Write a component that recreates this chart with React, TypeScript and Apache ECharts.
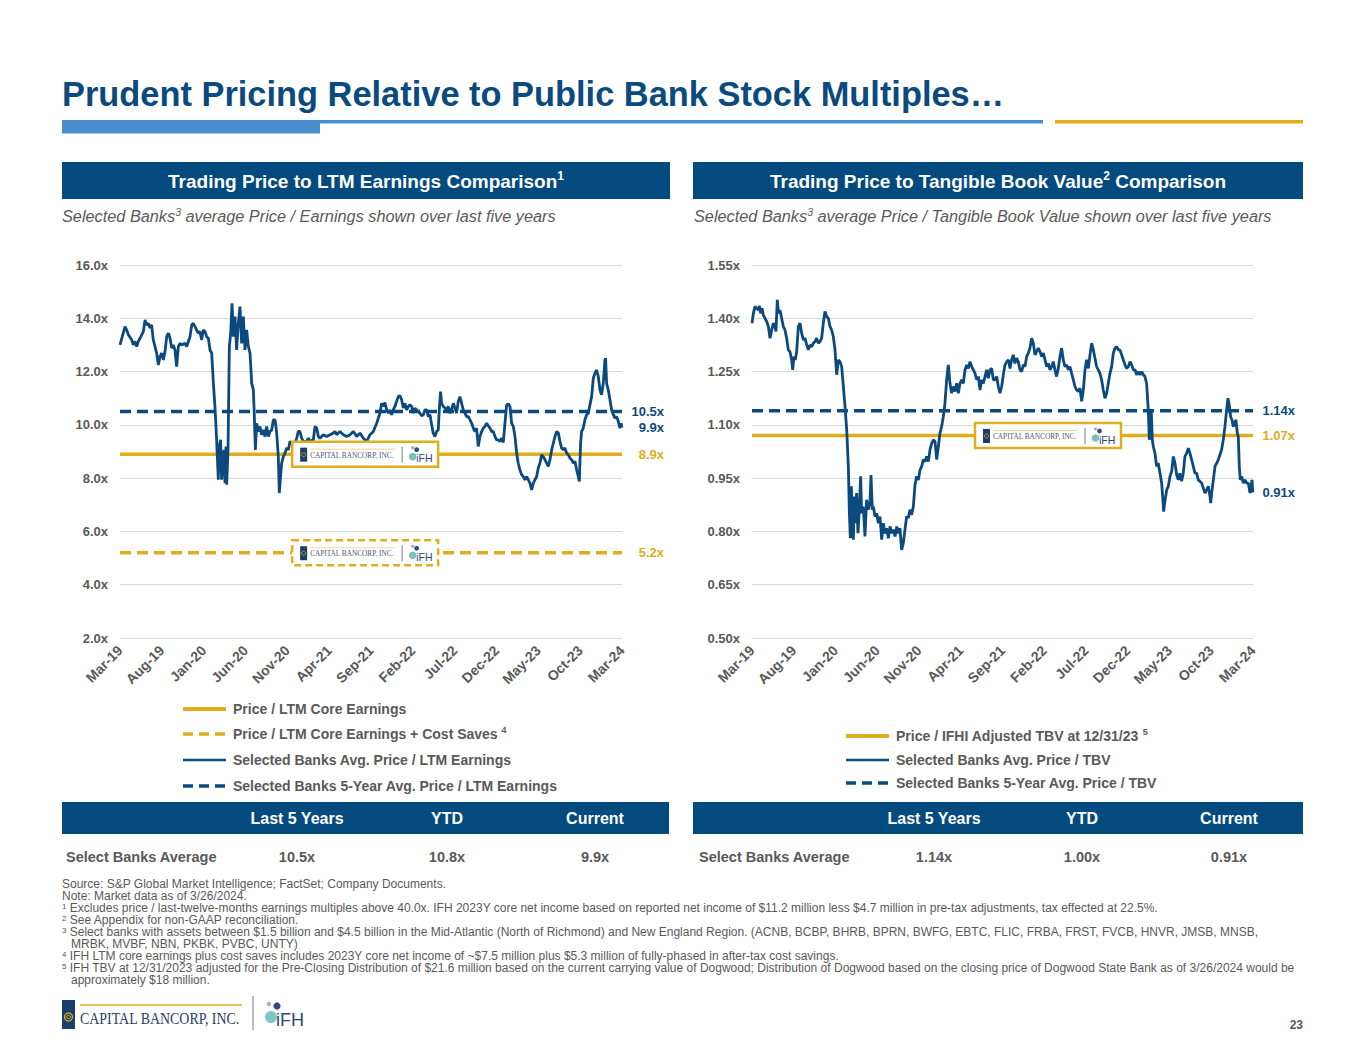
import React, { useEffect, useRef } from 'react';
import * as echarts from 'echarts';

// ---------- DATA ----------
const xTickLabels = ['Mar-19', 'Aug-19', 'Jan-20', 'Jun-20', 'Nov-20', 'Apr-21', 'Sep-21', 'Feb-22', 'Jul-22', 'Dec-22', 'May-23', 'Oct-23', 'Mar-24'];

// months since Mar-19, Selected Banks Avg. Price / LTM Earnings
const peSeries: [number, number][] = [
  [0, 13.0], [0.6, 13.69], [0.8, 13.56], [1.0, 13.38], [1.39, 13.19], [1.59, 13.0], [1.79, 13.13], [1.99, 12.94], [2.19, 13.13], [2.39, 13.25],
  [2.59, 13.38], [2.79, 13.5], [2.99, 13.94], [3.19, 13.75], [3.39, 13.81], [3.59, 13.63], [3.78, 13.75], [3.98, 13.19], [4.18, 12.94], [4.38, 12.69],
  [4.58, 12.25], [4.78, 12.56], [4.98, 12.69], [5.18, 12.44], [5.38, 12.75], [5.58, 13.31], [5.78, 13.44], [5.98, 13.25], [6.18, 12.88], [6.37, 13.0],
  [6.57, 12.81], [6.77, 12.19], [6.97, 12.94], [7.17, 13.06], [7.37, 13.0], [7.77, 13.06], [7.97, 12.94], [8.17, 13.13], [8.37, 13.31], [8.57, 13.75],
  [8.76, 13.81], [8.96, 13.69], [9.16, 13.56], [9.36, 13.44], [9.56, 13.5], [9.76, 13.19], [9.96, 13.56], [10.16, 13.5], [10.36, 13.31], [10.56, 13.25],
  [10.76, 12.81], [10.96, 12.69], [11.16, 11.56], [11.35, 10.69], [11.55, 9.44], [11.63, 8.81], [11.75, 7.94], [11.87, 9.19], [12.03, 9.44], [12.15, 7.94],
  [12.27, 8.56], [12.43, 9.06], [12.55, 7.81], [12.67, 9.19], [12.75, 7.75], [12.91, 9.06], [13.07, 12.94], [13.23, 13.44], [13.39, 14.56], [13.55, 13.31],
  [13.75, 14.06], [13.94, 12.81], [14.14, 13.81], [14.34, 14.44], [14.54, 13.06], [14.74, 14.06], [14.94, 12.81], [15.14, 13.56], [15.34, 12.94], [15.54, 12.69],
  [15.74, 11.56], [15.94, 11.31], [16.06, 10.31], [16.18, 9.06], [16.33, 10.06], [16.53, 9.75], [16.73, 9.94], [16.93, 9.63], [17.13, 9.81], [17.33, 9.56],
  [17.53, 9.94], [17.73, 9.56], [17.93, 9.75], [18.13, 9.81], [18.33, 10.19], [18.53, 10.19], [18.73, 9.69], [18.92, 8.81], [19.04, 7.44], [19.16, 7.94],
  [19.32, 8.56], [19.52, 8.81], [19.72, 8.94], [19.92, 9.13], [20.12, 9.06], [20.32, 9.38], [20.52, 9.31], [20.72, 9.19], [20.92, 9.31], [21.12, 9.5],
  [21.31, 9.75], [21.51, 9.75], [21.71, 9.5], [21.91, 9.38], [22.31, 9.38], [22.51, 9.5], [22.71, 9.38], [23.11, 9.44], [23.31, 9.94], [23.51, 9.88],
  [23.71, 9.56], [23.9, 9.5], [24.3, 9.63], [24.7, 9.56], [25.1, 9.63], [25.5, 9.69], [25.7, 9.75], [25.9, 9.63], [26.29, 9.75], [26.69, 9.63],
  [27.09, 9.56], [27.49, 9.63], [27.89, 9.75], [28.29, 9.56], [28.69, 9.69], [29.08, 9.5], [29.48, 9.38], [29.88, 9.63], [30.28, 9.75], [30.68, 10.06],
  [31.07, 10.44], [31.27, 10.81], [31.47, 10.69], [31.67, 10.84], [31.87, 10.56], [32.07, 10.44], [32.27, 10.56], [32.46, 10.38], [32.66, 10.56], [32.86, 10.69],
  [33.06, 10.88], [33.26, 11.06], [33.46, 11.09], [33.66, 10.94], [33.86, 10.63], [34.06, 10.81], [34.26, 10.56], [34.46, 10.69], [34.66, 10.75], [34.86, 10.69],
  [35.05, 10.44], [35.25, 10.63], [35.45, 10.56], [35.65, 10.5], [35.85, 10.44], [36.05, 10.34], [36.25, 10.38], [36.45, 10.56], [36.65, 10.56], [36.85, 10.31],
  [37.05, 10.38], [37.25, 10.0], [37.44, 9.69], [37.64, 9.56], [37.84, 9.75], [38.04, 9.81], [38.16, 10.56], [38.32, 11.25], [38.44, 10.81], [38.64, 10.69],
  [38.84, 10.63], [39.04, 10.56], [39.24, 10.69], [39.44, 10.44], [39.64, 10.59], [39.84, 10.81], [40.03, 10.63], [40.23, 10.44], [40.43, 10.88], [40.63, 11.06],
  [40.83, 10.81], [41.03, 10.56], [41.23, 10.44], [41.43, 10.31], [41.63, 10.31], [41.83, 10.19], [42.03, 10.06], [42.23, 9.88], [42.43, 9.75], [42.62, 9.88],
  [42.82, 9.19], [43.02, 9.56], [43.22, 9.75], [43.42, 9.88], [43.62, 9.94], [43.82, 10.06], [44.02, 9.96], [44.22, 9.88], [44.42, 9.75], [44.62, 9.75],
  [44.82, 9.56], [45.01, 9.44], [45.21, 9.44], [45.41, 9.38], [45.61, 9.5], [45.81, 9.34], [46.01, 10.06], [46.21, 10.75], [46.41, 10.79], [46.61, 10.69],
  [46.81, 10.06], [47.01, 9.94], [47.21, 9.56], [47.41, 8.94], [47.6, 8.56], [47.8, 8.31], [48.0, 8.13], [48.2, 8.06], [48.4, 7.94], [48.6, 8.06],
  [48.8, 7.94], [49.0, 7.81], [49.2, 7.56], [49.4, 7.81], [49.6, 7.94], [49.8, 8.06], [49.99, 8.38], [50.19, 8.56], [50.39, 8.88], [50.59, 8.81],
  [50.79, 8.69], [50.99, 8.56], [51.19, 8.44], [51.39, 8.69], [51.59, 9.06], [51.79, 9.31], [51.99, 9.56], [52.19, 9.75], [52.39, 9.69], [52.58, 9.38],
  [52.78, 9.13], [52.98, 9.06], [53.18, 9.13], [53.38, 8.94], [53.58, 8.88], [53.78, 8.75], [53.98, 8.69], [54.18, 8.56], [54.38, 8.63], [54.58, 8.31],
  [54.78, 8.06], [54.9, 7.88], [55.05, 9.31], [55.17, 9.75], [55.37, 9.88], [55.57, 10.19], [55.77, 10.38], [55.97, 10.44], [56.17, 10.75], [56.37, 11.06],
  [56.57, 11.75], [56.77, 11.94], [56.97, 12.06], [57.17, 11.81], [57.37, 11.31], [57.56, 11.13], [57.76, 11.56], [57.96, 12.44], [58.04, 12.5], [58.16, 11.56],
  [58.36, 11.31], [58.56, 10.94], [58.76, 10.56], [58.96, 10.38], [59.16, 10.25], [59.36, 10.31], [59.56, 10.13], [59.76, 9.88], [59.9, 10.06], [60, 9.9],
];

// months since Mar-19, Selected Banks Avg. Price / TBV
const tbvSeries: [number, number][] = [
  [0, 1.386], [0.16, 1.414], [0.36, 1.433], [0.56, 1.428], [0.76, 1.423], [0.88, 1.435], [1.04, 1.414], [1.2, 1.428], [1.36, 1.409], [1.56, 1.4],
  [1.76, 1.391], [1.96, 1.377], [2.16, 1.344], [2.36, 1.367], [2.55, 1.386], [2.75, 1.377], [2.87, 1.363], [3.03, 1.452], [3.19, 1.414], [3.35, 1.423],
  [3.55, 1.4], [3.75, 1.377], [3.95, 1.367], [4.15, 1.344], [4.35, 1.311], [4.55, 1.306], [4.75, 1.283], [4.87, 1.255], [5.03, 1.292], [5.19, 1.283],
  [5.35, 1.306], [5.55, 1.377], [5.75, 1.386], [5.95, 1.358], [6.15, 1.339], [6.35, 1.344], [6.55, 1.325], [6.75, 1.311], [6.95, 1.325], [7.15, 1.32],
  [7.35, 1.33], [7.54, 1.334], [7.74, 1.344], [7.94, 1.33], [8.14, 1.334], [8.34, 1.344], [8.54, 1.386], [8.74, 1.419], [8.94, 1.405], [9.14, 1.4],
  [9.34, 1.377], [9.54, 1.367], [9.74, 1.348], [9.94, 1.311], [10.14, 1.241], [10.34, 1.283], [10.54, 1.278], [10.74, 1.264], [10.94, 1.208], [11.14, 1.152],
  [11.34, 1.086], [11.54, 0.983], [11.66, 0.851], [11.78, 0.781], [11.9, 0.927], [12.02, 0.814], [12.14, 0.777], [12.26, 0.898], [12.38, 0.823], [12.53, 0.908],
  [12.69, 0.795], [12.85, 0.861], [13.01, 0.955], [13.13, 0.851], [13.33, 0.87], [13.53, 0.786], [13.73, 0.889], [13.93, 0.861], [14.13, 0.88], [14.25, 0.959],
  [14.41, 0.861], [14.53, 0.87], [14.73, 0.842], [14.93, 0.851], [15.13, 0.823], [15.33, 0.842], [15.53, 0.777], [15.73, 0.823], [15.93, 0.795], [16.13, 0.809],
  [16.33, 0.781], [16.53, 0.814], [16.73, 0.795], [16.93, 0.805], [17.13, 0.786], [17.33, 0.814], [17.52, 0.795], [17.72, 0.809], [17.92, 0.748], [18.12, 0.767],
  [18.32, 0.805], [18.52, 0.842], [18.72, 0.838], [18.92, 0.861], [19.12, 0.847], [19.32, 0.87], [19.52, 0.931], [19.72, 0.955], [19.92, 0.945], [20.12, 0.973],
  [20.32, 0.983], [20.52, 1.002], [20.72, 0.997], [20.92, 1.011], [21.12, 0.997], [21.32, 1.03], [21.52, 1.048], [21.72, 1.058], [21.92, 1.053], [22.12, 1.002],
  [22.32, 1.039], [22.51, 1.077], [22.71, 1.095], [22.91, 1.123], [23.11, 1.161], [23.31, 1.227], [23.51, 1.269], [23.71, 1.217], [23.91, 1.189], [24.11, 1.208],
  [24.31, 1.194], [24.51, 1.217], [24.71, 1.189], [24.91, 1.217], [25.11, 1.227], [25.31, 1.217], [25.51, 1.255], [25.71, 1.269], [25.91, 1.259], [26.11, 1.278],
  [26.31, 1.264], [26.51, 1.255], [26.71, 1.245], [26.91, 1.227], [27.11, 1.236], [27.31, 1.198], [27.5, 1.227], [27.7, 1.217], [27.9, 1.236], [28.1, 1.255],
  [28.3, 1.231], [28.5, 1.255], [28.7, 1.259], [28.9, 1.227], [29.1, 1.227], [29.3, 1.236], [29.5, 1.208], [29.7, 1.189], [29.9, 1.208], [30.1, 1.241],
  [30.3, 1.269], [30.5, 1.278], [30.7, 1.283], [30.9, 1.259], [31.09, 1.283], [31.29, 1.297], [31.49, 1.273], [31.69, 1.288], [31.89, 1.278], [32.09, 1.255],
  [32.29, 1.25], [32.49, 1.269], [32.69, 1.264], [32.89, 1.292], [33.09, 1.302], [33.29, 1.316], [33.49, 1.344], [33.69, 1.33], [33.89, 1.297], [34.09, 1.306],
  [34.29, 1.316], [34.49, 1.306], [34.69, 1.292], [34.89, 1.302], [35.09, 1.283], [35.29, 1.264], [35.49, 1.273], [35.69, 1.255], [35.89, 1.264], [36.08, 1.278],
  [36.28, 1.255], [36.48, 1.236], [36.68, 1.259], [36.88, 1.292], [37.08, 1.316], [37.28, 1.283], [37.48, 1.264], [37.68, 1.269], [37.88, 1.255], [38.08, 1.264],
  [38.28, 1.245], [38.48, 1.227], [38.68, 1.208], [38.88, 1.198], [39.08, 1.194], [39.28, 1.203], [39.48, 1.166], [39.68, 1.198], [39.88, 1.255], [40.08, 1.283],
  [40.28, 1.259], [40.48, 1.297], [40.68, 1.33], [40.88, 1.311], [41.07, 1.288], [41.27, 1.264], [41.47, 1.255], [41.67, 1.245], [41.87, 1.227], [42.07, 1.198],
  [42.27, 1.175], [42.47, 1.189], [42.67, 1.217], [42.87, 1.245], [43.07, 1.264], [43.27, 1.302], [43.47, 1.316], [43.67, 1.32], [43.87, 1.311], [44.07, 1.311],
  [44.27, 1.297], [44.47, 1.283], [44.67, 1.269], [44.87, 1.259], [45.07, 1.264], [45.27, 1.278], [45.47, 1.269], [45.67, 1.255], [45.87, 1.255], [46.06, 1.241],
  [46.26, 1.25], [46.46, 1.241], [46.66, 1.25], [46.86, 1.241], [47.06, 1.236], [47.26, 1.217], [47.46, 1.142], [47.58, 1.058], [47.7, 1.095], [47.82, 1.137],
  [47.94, 1.058], [48.06, 1.039], [48.26, 1.02], [48.46, 0.983], [48.66, 0.992], [48.86, 0.964], [49.06, 0.936], [49.18, 0.898], [49.3, 0.856], [49.42, 0.88],
  [49.54, 0.898], [49.66, 0.917], [49.86, 0.927], [50.06, 0.955], [50.26, 0.969], [50.46, 1.011], [50.66, 0.992], [50.86, 0.959], [51.05, 0.945], [51.25, 0.964],
  [51.45, 0.941], [51.65, 0.964], [51.85, 1.011], [52.05, 1.02], [52.25, 1.034], [52.45, 1.02], [52.65, 1.002], [52.85, 0.983], [53.05, 0.964], [53.25, 0.964],
  [53.45, 0.945], [53.65, 0.941], [53.85, 0.936], [54.05, 0.922], [54.25, 0.908], [54.45, 0.917], [54.65, 0.927], [54.85, 0.898], [54.93, 0.88], [55.05, 0.908],
  [55.25, 0.945], [55.45, 0.983], [55.65, 0.992], [55.85, 1.002], [56.04, 1.016], [56.24, 1.03], [56.44, 1.058], [56.64, 1.095], [56.84, 1.142], [57.0, 1.175],
  [57.16, 1.156], [57.32, 1.123], [57.48, 1.114], [57.64, 1.095], [57.8, 1.105], [57.96, 1.114], [58.12, 1.077], [58.24, 1.067], [58.36, 0.983], [58.48, 0.945],
  [58.64, 0.955], [58.84, 0.936], [59.04, 0.945], [59.24, 0.936], [59.44, 0.936], [59.64, 0.908], [59.76, 0.927], [59.88, 0.945], [59.96, 0.917], [60, 0.91],
];

const peCore = 8.9;
const peCoreCostSaves = 5.2;
const pe5yrAvg = 10.5;
const peCurrent = 9.9;
const tbvAdjusted = 1.07;
const tbv5yrAvg = 1.14;
const tbvCurrent = 0.91;

const tableColumns = ['Last 5 Years', 'YTD', 'Current'];
const tableRowLabel = 'Select Banks Average';
const peTableValues = ['10.5x', '10.8x', '9.9x'];
const tbvTableValues = ['1.14x', '1.00x', '0.91x'];

const peLegend = ['Price / LTM Core Earnings', 'Price / LTM Core Earnings + Cost Saves', 'Selected Banks Avg. Price / LTM Earnings', 'Selected Banks 5-Year Avg. Price / LTM Earnings'];
const tbvLegend = ['Price / IFHI Adjusted TBV at 12/31/23', 'Selected Banks Avg. Price / TBV', 'Selected Banks 5-Year Avg. Price / TBV'];

const footnotes: [string, string][] = [
  ['', 'Source: S&P Global Market Intelligence; FactSet; Company Documents.'],
  ['', 'Note: Market data as of 3/26/2024.'],
  ['1', 'Excludes price / last-twelve-months earnings multiples above 40.0x. IFH 2023Y core net income based on reported net income of $11.2 million less $4.7 million in pre-tax adjustments, tax effected at 22.5%.'],
  ['2', 'See Appendix for non-GAAP reconciliation.'],
  ['3', 'Select banks with assets between $1.5 billion and $4.5 billion in the Mid-Atlantic (North of Richmond) and New England Region. (ACNB, BCBP, BHRB, BPRN, BWFG, EBTC, FLIC, FRBA, FRST, FVCB, HNVR, JMSB, MNSB,'],
  [' ', 'MRBK, MVBF, NBN, PKBK, PVBC, UNTY)'],
  ['4', 'IFH LTM core earnings plus cost saves includes 2023Y core net income of ~$7.5 million plus $5.3 million of fully-phased in after-tax cost savings.'],
  ['5', 'IFH TBV at 12/31/2023 adjusted for the Pre-Closing Distribution of $21.6 million based on the current carrying value of Dogwood; Distribution of Dogwood based on the closing price of Dogwood State Bank as of 3/26/2024 would be'],
  [' ', 'approximately $18 million.'],
];

// ---------- STYLE ----------
const NAVY = '#0b4a7e';
const HEADER = '#034a7f';
const GOLD = '#e0ad1c';
const GRAY = '#595959';
const GRIDC = '#d9d9d9';
const BLUE = '#4a8dcf';
const NARROW = "'Liberation Sans Narrow','Arial Narrow','Liberation Sans',Arial,sans-serif";
const SANS = "'Liberation Sans',Arial,sans-serif";
const SERIF = "'Liberation Serif','Times New Roman',serif";

function hLine(gridIndex: number, value: number, color: string, dashed: boolean) {
  return {
    type: 'line', xAxisIndex: gridIndex, yAxisIndex: gridIndex, symbol: 'none', silent: true,
    data: [[0, value], [60, value]],
    lineStyle: { color, width: 3.5, type: dashed ? [11, 6] : 'solid' },
  };
}

function baseOption() {
  const axisLabel = { color: GRAY, fontWeight: 'bold', fontSize: 13, fontFamily: SANS };
  const xAxis = [0, 1].map((i) => ({
    type: 'value', gridIndex: i, min: 0, max: 60, interval: 5,
    axisLine: { show: false }, axisTick: { show: false }, splitLine: { show: false },
    axisLabel: { ...axisLabel, fontSize: 14, rotate: 45, margin: 10, showMinLabel: true, showMaxLabel: true,
      formatter: (v: number) => xTickLabels[Math.round(v / 5)] ?? '' },
  }));
  const yCommon = { type: 'value', axisLine: { show: false }, axisTick: { show: false }, splitLine: { lineStyle: { color: GRIDC, width: 1 } } };
  return {
    animation: false,
    backgroundColor: '#ffffff',
    grid: [
      { left: 120, top: 265, width: 502, height: 373 },
      { left: 752, top: 265, width: 501, height: 373 },
    ],
    xAxis,
    yAxis: [
      { ...yCommon, gridIndex: 0, min: 2, max: 16, interval: 2, axisLabel: { ...axisLabel, margin: 12, formatter: (v: number) => v.toFixed(1) + 'x' } },
      { ...yCommon, gridIndex: 1, min: 0.5, max: 1.55, interval: 0.15, axisLabel: { ...axisLabel, margin: 12, formatter: (v: number) => v.toFixed(2) + 'x' } },
    ],
    series: [
      hLine(0, peCoreCostSaves, GOLD, true),
      hLine(0, peCore, GOLD, false),
      hLine(0, pe5yrAvg, NAVY, true),
      { type: 'line', xAxisIndex: 0, yAxisIndex: 0, symbol: 'none', silent: true, data: peSeries, lineStyle: { color: NAVY, width: 2.8 } },
      hLine(1, tbvAdjusted, GOLD, false),
      hLine(1, tbv5yrAvg, NAVY, true),
      { type: 'line', xAxisIndex: 1, yAxisIndex: 1, symbol: 'none', silent: true, data: tbvSeries, lineStyle: { color: NAVY, width: 2.8 } },
    ],
  };
}

function text(x: number, y: number, t: string, o: any = {}) {
  const { z, scaleX, ...style } = o;
  return { type: 'text', x, y, z: z ?? 50, scaleX: scaleX ?? 1, style: { text: t, fill: GRAY, fontFamily: SANS, fontSize: 12, verticalAlign: 'middle', align: 'left', ...style } };
}

function supText(x: number, y: number, main: string, sup: string, size: number, color: string, o: any = {}) {
  const fam = o.fontFamily ?? NARROW;
  const weight = o.fontWeight ?? 'bold';
  const italic = o.fontStyle ?? 'normal';
  return {
    type: 'text', x, y, z: 50,
    style: {
      text: sup ? `{m|${main}}{s|${sup}}` : `{m|${main}}`,
      align: o.align ?? 'left', verticalAlign: 'middle',
      rich: {
        m: { fontSize: size, fontFamily: fam, fontWeight: weight, fontStyle: italic, fill: color, color, lineHeight: size * 1.15 },
        s: { fontSize: Math.round(size * 0.62), fontFamily: fam, fontWeight: weight, fontStyle: italic, fill: color, color, verticalAlign: 'top', lineHeight: size * 1.15 },
      },
    },
  };
}

function smallLogo(cx: number, cy: number, dashed: boolean) {
  const w = 146, h = 25, x = cx - w / 2, y = cy - h / 2;
  return [
    { type: 'rect', z: 60, shape: { x, y, width: w, height: h }, style: { fill: '#ffffff', stroke: GOLD, lineWidth: 2.5, lineDash: dashed ? [7, 4] : null } },
    { type: 'rect', z: 61, shape: { x: x + 8, y: y + 6, width: 7, height: 14 }, style: { fill: '#1d3c68' } },
    { type: 'circle', z: 62, shape: { cx: x + 11.5, cy: y + 13, r: 2 }, style: { fill: 'none', stroke: GOLD, lineWidth: 0.8 } },
    { type: 'line', z: 61, shape: { x1: x + 18, y1: y + 7.5, x2: x + 103, y2: y + 7.5 }, style: { stroke: '#e8cf7c', lineWidth: 0.8 } },
    { type: 'text', z: 61, x: x + 18, y: y + 13.5, scaleX: 0.81, style: { text: 'CAPITAL BANCORP, INC.', fontFamily: SERIF, fontSize: 9, fill: '#4a5870', verticalAlign: 'middle' } },
    { type: 'line', z: 61, shape: { x1: x + 110, y1: y + 5, x2: x + 110, y2: y + 21 }, style: { stroke: '#555', lineWidth: 0.8 } },
    { type: 'circle', z: 61, shape: { cx: x + 120.5, cy: y + 6, r: 1.5 }, style: { fill: '#9aa9b8' } },
    { type: 'circle', z: 61, shape: { cx: x + 124.5, cy: y + 8, r: 2.4 }, style: { fill: '#2d4a78' } },
    { type: 'circle', z: 61, shape: { cx: x + 120.5, cy: y + 15, r: 3.8 }, style: { fill: '#79c2c0' } },
    { type: 'text', z: 62, x: x + 124, y: y + 16.5, style: { text: 'iFH', fontFamily: SANS, fontSize: 10.5, fill: '#2b4a78', verticalAlign: 'middle' } },
  ];
}

function legendItems(x: number, ys: number[], labels: string[], styles: { color: string; dashed: boolean; width: number }[], sups: string[]) {
  const els: any[] = [];
  labels.forEach((lab, i) => {
    const s = styles[i];
    els.push({ type: 'line', z: 50, shape: { x1: x, y1: ys[i], x2: x + 43, y2: ys[i] }, style: { stroke: s.color, lineWidth: s.width, lineDash: s.dashed ? [10, 6] : null } });
    els.push(supText(x + 50, ys[i], lab + (sups[i] ? ' ' : ''), sups[i], 14, GRAY));
  });
  return els;
}

function table(x: number, w: number, labelX: number, centers: number[], values: string[]) {
  const els: any[] = [];
  els.push({ type: 'rect', z: 40, shape: { x, y: 802, width: w, height: 32 }, style: { fill: HEADER } });
  tableColumns.forEach((c, i) => els.push(text(centers[i], 818, c, { fill: '#ffffff', fontFamily: NARROW, fontWeight: 'bold', fontSize: 16, align: 'center' })));
  els.push(text(labelX, 857, tableRowLabel, { fontFamily: NARROW, fontWeight: 'bold', fontSize: 14.5 }));
  values.forEach((v, i) => els.push(text(centers[i], 857, v, { fontFamily: NARROW, fontWeight: 'bold', fontSize: 14.5, align: 'center' })));
  return els;
}

function buildGraphics(chart: any) {
  const px = (g: number, p: [number, number]) => chart.convertToPixel({ gridIndex: g }, p) as number[];
  const els: any[] = [];

  // title
  els.push(text(62, 94, 'Prudent Pricing Relative to Public Bank Stock Multiples…', { fill: NAVY, fontFamily: NARROW, fontWeight: 'bold', fontSize: 34.4 }));
  els.push({ type: 'rect', z: 40, shape: { x: 62, y: 120, width: 981, height: 3.5 }, style: { fill: BLUE } });
  els.push({ type: 'rect', z: 40, shape: { x: 62, y: 120, width: 258, height: 13.5 }, style: { fill: BLUE } });
  els.push({ type: 'rect', z: 40, shape: { x: 1055, y: 120, width: 248, height: 3.5 }, style: { fill: GOLD } });

  // section headers
  els.push({ type: 'rect', z: 40, shape: { x: 62, y: 162, width: 608, height: 37 }, style: { fill: HEADER } });
  els.push({ type: 'rect', z: 40, shape: { x: 693, y: 162, width: 610, height: 37 }, style: { fill: HEADER } });
  els.push(supText(366, 181, 'Trading Price to LTM Earnings Comparison', '1', 19, '#ffffff', { align: 'center' }));
  els.push({
    type: 'text', x: 998, y: 181, z: 50,
    style: {
      text: '{m|Trading Price to Tangible Book Value}{s|2}{m| Comparison}', align: 'center', verticalAlign: 'middle',
      rich: {
        m: { fontSize: 19, fontFamily: NARROW, fontWeight: 'bold', fill: '#fff', color: '#fff', lineHeight: 22 },
        s: { fontSize: 12, fontFamily: NARROW, fontWeight: 'bold', fill: '#fff', color: '#fff', verticalAlign: 'top', lineHeight: 22 },
      },
    },
  });
  const subRich = (main1: string, main2: string, x: number) => ({
    type: 'text', x, y: 216, z: 50,
    style: {
      text: `{m|${main1}}{s|3}{m|${main2}}`, verticalAlign: 'middle',
      rich: {
        m: { fontSize: 16.3, fontFamily: NARROW, fontStyle: 'italic', fill: GRAY, color: GRAY, lineHeight: 19 },
        s: { fontSize: 10.5, fontFamily: NARROW, fontStyle: 'italic', fill: GRAY, color: GRAY, verticalAlign: 'top', lineHeight: 19 },
      },
    },
  });
  els.push(subRich('Selected Banks', ' average Price / Earnings shown over last five years', 62));
  els.push(subRich('Selected Banks', ' average Price / Tangible Book Value shown over last five years', 694));

  // end labels
  const endLabel = (g: number, v: number, t: string, color: string) => {
    const p = px(g, [60, v]);
    return text(p[0] + 42, p[1], t, { fill: color, fontFamily: SANS, fontWeight: 'bold', fontSize: 13, align: 'right' });
  };
  els.push(endLabel(0, pe5yrAvg, pe5yrAvg.toFixed(1) + 'x', NAVY));
  els.push(endLabel(0, peCurrent, peCurrent.toFixed(1) + 'x', NAVY));
  els.push(endLabel(0, peCore, peCore.toFixed(1) + 'x', GOLD));
  els.push(endLabel(0, peCoreCostSaves, peCoreCostSaves.toFixed(1) + 'x', GOLD));
  els.push(endLabel(1, tbv5yrAvg, tbv5yrAvg.toFixed(2) + 'x', NAVY));
  els.push(endLabel(1, tbvAdjusted, tbvAdjusted.toFixed(2) + 'x', GOLD));
  els.push(endLabel(1, tbvCurrent, tbvCurrent.toFixed(2) + 'x', NAVY));

  // logo boxes on the reference lines
  const a = px(0, [29.3, peCore]);
  els.push(...smallLogo(a[0], a[1], false));
  const b = px(0, [29.3, peCoreCostSaves]);
  els.push(...smallLogo(b[0], b[1], true));
  const c = px(1, [35.45, tbvAdjusted]);
  els.push(...smallLogo(c[0], c[1], false));

  // legends
  els.push(...legendItems(183, [709, 734, 760, 786], peLegend, [
    { color: GOLD, dashed: false, width: 4 }, { color: GOLD, dashed: true, width: 3.5 },
    { color: NAVY, dashed: false, width: 2.5 }, { color: NAVY, dashed: true, width: 3.5 },
  ], ['', '4', '', '']));
  els.push(...legendItems(846, [736, 760, 783], tbvLegend, [
    { color: GOLD, dashed: false, width: 4 }, { color: NAVY, dashed: false, width: 2.5 }, { color: NAVY, dashed: true, width: 3.5 },
  ], ['5', '', '']));

  // tables
  els.push(...table(62, 607, 66, [297, 447, 595], peTableValues));
  els.push(...table(693, 610, 699, [934, 1082, 1229], tbvTableValues));

  // footnotes
  const fy = [884, 896, 908, 920, 932, 944, 956, 968, 980];
  footnotes.forEach(([sup, t], i) => {
    if (sup && sup !== ' ') {
      els.push({
        type: 'text', x: 62, y: fy[i], z: 50,
        style: {
          text: `{s|${sup}}{m| ${t}}`, verticalAlign: 'middle',
          rich: {
            m: { fontSize: 12, fontFamily: NARROW, fill: GRAY, color: GRAY, lineHeight: 12 },
            s: { fontSize: 8, fontFamily: NARROW, fill: GRAY, color: GRAY, verticalAlign: 'top', lineHeight: 12 },
          },
        },
      });
    } else {
      els.push(text(sup === ' ' ? 71 : 62, fy[i], t, { fontFamily: NARROW, fontSize: 12 }));
    }
  });

  // bottom logo
  els.push({ type: 'rect', z: 50, shape: { x: 62, y: 1000, width: 13, height: 29 }, style: { fill: '#1b3d6c' } });
  els.push({ type: 'circle', z: 51, shape: { cx: 68.5, cy: 1017, r: 4 }, style: { fill: 'none', stroke: GOLD, lineWidth: 1.3 } });
  els.push({ type: 'circle', z: 51, shape: { cx: 68.5, cy: 1017, r: 1.8 }, style: { fill: 'none', stroke: GOLD, lineWidth: 1 } });
  els.push({ type: 'line', z: 50, shape: { x1: 80, y1: 1005, x2: 242, y2: 1005 }, style: { stroke: GOLD, lineWidth: 1.5 } });
  els.push({ type: 'text', z: 50, x: 80, y: 1018, scaleX: 0.82, style: { text: 'CAPITAL BANCORP, INC.', fontFamily: SERIF, fontSize: 17, fill: '#2a4166', verticalAlign: 'middle' } });
  els.push({ type: 'line', z: 50, shape: { x1: 253, y1: 996, x2: 253, y2: 1030 }, style: { stroke: '#777', lineWidth: 1 } });
  els.push({ type: 'circle', z: 50, shape: { cx: 269, cy: 1004, r: 2.2 }, style: { fill: '#a3b1bf' } });
  els.push({ type: 'circle', z: 50, shape: { cx: 277, cy: 1006, r: 3.6 }, style: { fill: '#2d4a78' } });
  els.push({ type: 'circle', z: 50, shape: { cx: 271, cy: 1017, r: 6 }, style: { fill: '#7cc6c3' } });
  els.push({ type: 'text', z: 51, x: 276, y: 1020, style: { text: 'iFH', fontFamily: SANS, fontSize: 18, fill: '#2b4a78', verticalAlign: 'middle' } });

  // page number
  els.push(text(1303, 1025, '23', { fontFamily: SANS, fontWeight: 'bold', fontSize: 12, align: 'right' }));
  return els;
}

export default function App() {
  const ref = useRef<HTMLDivElement>(null);
  useEffect(() => {
    if (!ref.current) return;
    const chart = echarts.init(ref.current, null, { renderer: 'svg' });
    chart.setOption(baseOption() as any);
    chart.setOption({ graphic: { elements: buildGraphics(chart) } } as any);
    return () => chart.dispose();
  }, []);
  return <div ref={ref} style={{ position: 'absolute', left: 0, top: 0, width: 1365, height: 1055, background: '#ffffff' }} />;
}
